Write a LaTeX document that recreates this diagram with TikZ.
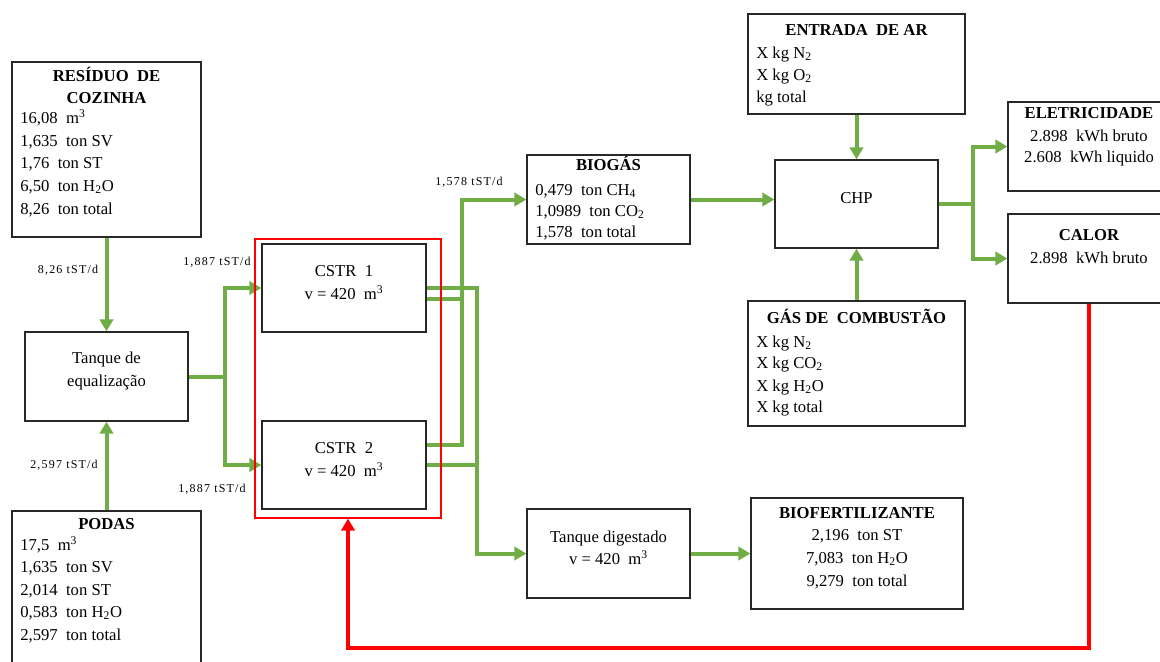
\documentclass[tikz,border=0pt]{standalone}
\usepackage{fontspec}
\setmainfont{Liberation Serif}
\newfontfamily\lblfont[LetterSpace=10]{Liberation Serif}
\newcommand\myfont{\fontsize{12.5}{17}\selectfont}
\usetikzlibrary{arrows.meta,fit}
\definecolor{gr}{RGB}{112,173,71}
\definecolor{bx}{RGB}{40,40,40}
\begin{document}
\begin{tikzpicture}[x=0.75pt,y=-0.75pt,
  box/.style={draw=bx,line width=1pt,inner sep=0pt,align=center,font=\myfont},
  ttl/.style={anchor=base,inner sep=0pt,font=\myfont\bfseries},
  txt/.style={anchor=base west,inner sep=0pt,font=\myfont},
  ctxt/.style={anchor=base,inner sep=0pt,font=\myfont},
  lbl/.style={inner sep=0pt,font=\lblfont\fontsize{9}{10}\selectfont},
  gline/.style={draw=gr,line width=3pt},
  garrow/.style={gline,-{Triangle[length=9pt,width=10pt]}},
  rarrow/.style={draw=red,line width=3pt,-{Triangle[length=9pt,width=10pt]}}]
\useasboundingbox (0,0) rectangle (1160,661);

% boxes
\node[box, fit={(12,62)(201,237)}] (res) {};
\node[box, fit={(25,332)(188,421)}] (eq) {Tanque de\\equalização};
\node[box, fit={(12,511)(201,690)}] (pod) {};
\node[box, fit={(262,244)(426,332)}] (c1) {CSTR\ \ 1\\v = 420\ \ m\textsuperscript{3}};
\node[box, fit={(262,421)(426,509)}] (c2) {CSTR\ \ 2\\v = 420\ \ m\textsuperscript{3}};
\node[box, fit={(527,155)(690,244)}] (bio) {};
\node[box, fit={(748,14)(965,114)}] (ent) {};
\node[box, fit={(775,160)(938,248)}] (chp) {CHP};
\node[box, fit={(748,301)(965,426)}] (gas) {};
\node[box, fit={(1008,102)(1170,191)}] (ele) {};
\node[box, fit={(1008,214)(1170,303)}] (cal) {};
\node[box, fit={(527,509)(690,598)}] (td) {Tanque digestado\\v = 420\ \ m\textsuperscript{3}};
\node[box, fit={(751,498)(963,609)}] (bf) {\textbf{BIOFERTILIZANTE}\\2,196\ \ ton ST\\7,083\ \ ton H\textsubscript{2}O\\9,279\ \ ton total};

% texts
\node[ttl] (rt1) at (106.5,81) {RESÍDUO\ \ DE};
\node[ttl] (rt2) at (106.5,103) {COZINHA};
\node[txt] (r1) at (20,123) {16,08\ \ m\textsuperscript{3}};
\node[txt] (r2) at (20,146) {1,635\ \ ton SV};
\node[txt] (r3) at (20,168) {1,76\ \ ton ST};
\node[txt] (r4) at (20,191) {6,50\ \ ton H\textsubscript{2}O};
\node[txt] (r5) at (20,214) {8,26\ \ ton total};

\node[ttl] (pt) at (106.5,529) {PODAS};
\node[txt] (p1) at (20,550) {17,5\ \ m\textsuperscript{3}};
\node[txt] (p2) at (20,572) {1,635\ \ ton SV};
\node[txt] (p3) at (20,595) {2,014\ \ ton ST};
\node[txt] (p4) at (20,617) {0,583\ \ ton H\textsubscript{2}O};
\node[txt] (p5) at (20,640) {2,597\ \ ton total};

\node[ttl] (bt) at (608.5,170) {BIOGÁS};
\node[txt] (b1t) at (535,195) {0,479\ \ ton CH\textsubscript{4}};
\node[txt] (b2t) at (535,216) {1,0989\ \ ton CO\textsubscript{2}};
\node[txt] (b3t) at (535,237) {1,578\ \ ton total};

\node[ttl] (et) at (856.5,35) {ENTRADA\ \ DE AR};
\node[txt] (e1) at (756,58) {X kg N\textsubscript{2}};
\node[txt] (e2) at (756,80) {X kg O\textsubscript{2}};
\node[txt] (e3) at (756,102) {kg total};

\node[ttl] (gt) at (856.5,323) {GÁS DE\ \ COMBUSTÃO};
\node[txt] (g1) at (756,347) {X kg N\textsubscript{2}};
\node[txt] (g2) at (756,368) {X kg CO\textsubscript{2}};
\node[txt] (g3) at (756,391) {X kg H\textsubscript{2}O};
\node[txt] (g4) at (756,412) {X kg total};

\node[ttl] (elt) at (1089,118) {ELETRICIDADE};
\node[ctxt] (el1) at (1089,141) {2.898\ \ kWh bruto};
\node[ctxt] (el2) at (1089,162) {2.608\ \ kWh liquido};

\node[ttl] (cat) at (1089,240) {CALOR};
\node[ctxt] (ca1) at (1089,263) {2.898\ \ kWh bruto};

% labels
\node[lbl] (l1) at (68,270) {8,26 tST/d};
\node[lbl] (l2) at (64,465) {2,597 tST/d};
\node[lbl] (l3) at (217,262) {1,887 tST/d};
\node[lbl] (l4) at (212,489) {1,887 tST/d};
\node[lbl] (l5) at (469,182) {1,578 tST/d};

% green connectors
\draw[garrow] (res) -- (eq);
\draw[garrow] (pod) -- (eq);
\coordinate (b1) at (225,376.5);
\draw[gline] (eq.east) -- (b1);
\draw[garrow] (b1) |- (c1.west);
\draw[garrow] (b1) |- (c2.west);

\coordinate (vd) at (477,400);
\coordinate (vb) at (462,300);
\coordinate (c1b) at ([yshift=-8.25pt]c1.east);
\coordinate (c2a) at ([yshift=15pt]c2.east);
\draw[garrow] (c1.east) -| (vd) |- (td.west);
\draw[gline] (c2.east) -- (c2.east -| vd);
\draw[garrow] (c2a) -| (vb) |- (bio.west);
\draw[gline] (c1b) -- (c1b -| vb);

\draw[garrow] (bio.east) -- (bio.east -| chp.west);
\draw[garrow] (ent) -- (chp);
\draw[garrow] (gas) -- (chp);
\coordinate (b2) at (973,204);
\draw[gline] (chp.east) -- (b2);
\draw[garrow] (b2) |- (ele.west);
\draw[garrow] (b2) |- (cal.west);
\draw[garrow] (td) -- (bf);

% red
\node[draw=red, line width=0.9pt, inner sep=0pt, fit={(255,239)(441,518)}] (rb) {};
\coordinate (rc) at (700,648);
\draw[rarrow] (cal.south) |- (rc) -| (rb.south);
\end{tikzpicture}
\end{document}
